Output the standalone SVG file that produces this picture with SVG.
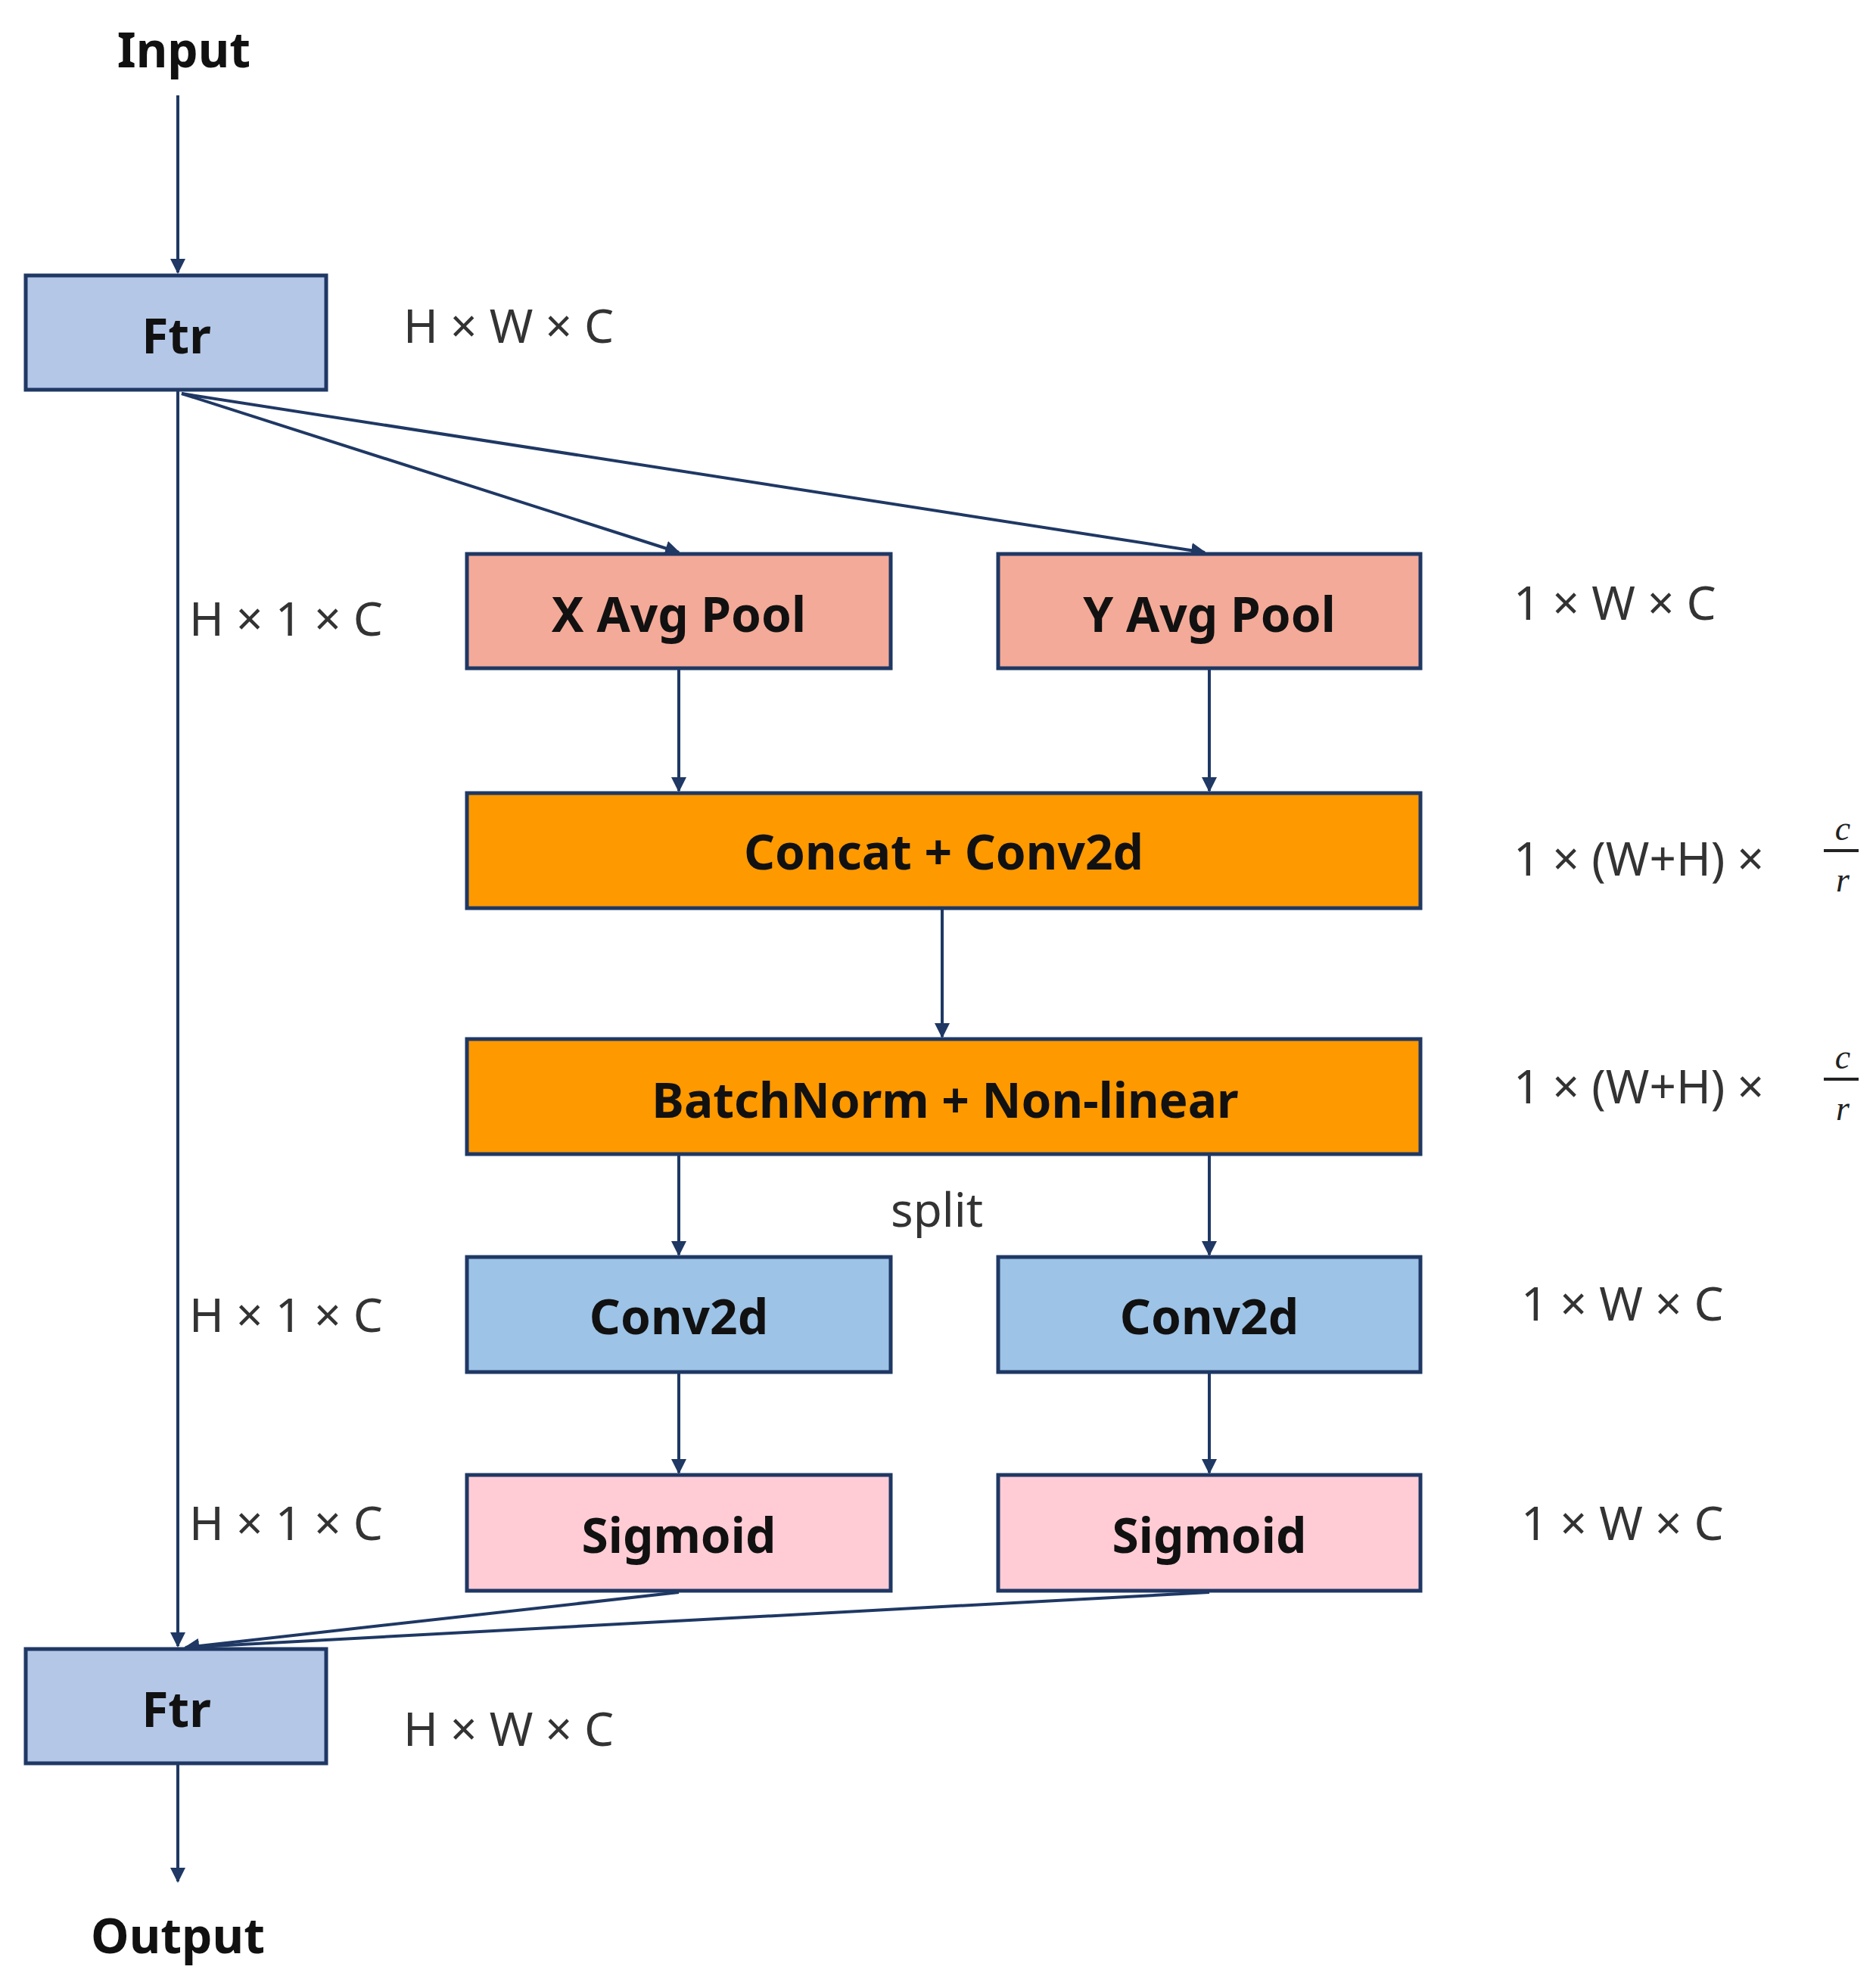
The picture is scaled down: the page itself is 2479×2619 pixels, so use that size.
<svg xmlns="http://www.w3.org/2000/svg" width="2479" height="2619" viewBox="0 0 2479 2619">
<defs>
<marker id="ah" viewBox="0 0 10 10" refX="9" refY="5" markerWidth="5" markerHeight="5" orient="auto" markerUnits="strokeWidth"><path d="M0,0 L10,5 L0,10 z" fill="#1f3864"/></marker>
<style>
.b{stroke:#1f3864;stroke-width:5}
.t{font-family:"Noto Sans","Liberation Sans",sans-serif;font-weight:bold;font-size:64px;fill:#111;text-anchor:middle;dominant-baseline:central}
.d{font-family:"Noto Sans","Liberation Sans",sans-serif;font-size:62px;fill:#333;dominant-baseline:central}
.c{stroke:#1f3864;stroke-width:4;fill:none;marker-end:url(#ah)}
.f{font-family:"Liberation Serif",serif;font-style:italic;font-size:46px;fill:#222;text-anchor:middle}
</style>
</defs>
<rect width="2479" height="2619" fill="#fff"/>
<g id="connectors">
<line class="c" x1="235" y1="126" x2="235" y2="360"/>
<line class="c" x1="235" y1="517" x2="235" y2="2175"/>
<line class="c" x1="240" y1="520" x2="897" y2="730"/>
<line class="c" x1="240" y1="520" x2="1592" y2="730"/>
<line class="c" x1="897" y1="885" x2="897" y2="1045"/>
<line class="c" x1="1598" y1="885" x2="1598" y2="1045"/>
<line class="c" x1="1245" y1="1202" x2="1245" y2="1370"/>
<line class="c" x1="897" y1="1527" x2="897" y2="1658"/>
<line class="c" x1="1598" y1="1527" x2="1598" y2="1658"/>
<line class="c" x1="897" y1="1815" x2="897" y2="1946"/>
<line class="c" x1="1598" y1="1815" x2="1598" y2="1946"/>
<line class="c" x1="897" y1="2104" x2="245" y2="2177"/>
<line class="c" x1="1598" y1="2104" x2="245" y2="2177"/>
<line class="c" x1="235" y1="2332" x2="235" y2="2486"/>
</g>
<g id="input"><text class="t" x="243" y="64">Input</text></g>
<g id="ftr1"><rect class="b" x="34" y="364" width="397" height="151" fill="#b4c7e7"/><text class="t" x="233" y="442">Ftr</text></g>
<g id="xpool"><rect class="b" x="617" y="732" width="560" height="151" fill="#f4aa98"/><text class="t" x="897" y="810">X Avg Pool</text></g>
<g id="ypool"><rect class="b" x="1319" y="732" width="558" height="151" fill="#f4aa98"/><text class="t" x="1598" y="810">Y Avg Pool</text></g>
<g id="concat"><rect class="b" x="617" y="1048" width="1260" height="152" fill="#ff9900"/><text class="t" x="1247" y="1124">Concat + Conv2d</text></g>
<g id="bn"><rect class="b" x="617" y="1373" width="1260" height="152" fill="#ff9900"/><text class="t" x="1249" y="1452">BatchNorm + Non-linear</text></g>
<g id="conv1"><rect class="b" x="617" y="1661" width="560" height="152" fill="#9dc3e6"/><text class="t" x="897" y="1738">Conv2d</text></g>
<g id="conv2"><rect class="b" x="1319" y="1661" width="558" height="152" fill="#9dc3e6"/><text class="t" x="1598" y="1738">Conv2d</text></g>
<g id="sig1"><rect class="b" x="617" y="1949" width="560" height="153" fill="#ffccd5"/><text class="t" x="897" y="2027">Sigmoid</text></g>
<g id="sig2"><rect class="b" x="1319" y="1949" width="558" height="153" fill="#ffccd5"/><text class="t" x="1598" y="2027">Sigmoid</text></g>
<g id="ftr2"><rect class="b" x="34" y="2179" width="397" height="151" fill="#b4c7e7"/><text class="t" x="233" y="2257">Ftr</text></g>
<g id="output"><text class="t" x="235" y="2556">Output</text></g>
<g id="labels">
<text class="d" x="533" y="429">H × W × C</text>
<text class="d" x="250" y="816">H × 1 × C</text>
<text class="d" x="2000" y="795">1 × W × C</text>
<text class="d" x="2000" y="1133">1 × (W+H) ×</text>
<line x1="2410" y1="1124" x2="2456" y2="1124" stroke="#222" stroke-width="4"/>
<text class="f" x="2435" y="1110">c</text><text class="f" x="2435" y="1178">r</text>
<text class="d" x="2000" y="1434">1 × (W+H) ×</text>
<line x1="2410" y1="1426" x2="2456" y2="1426" stroke="#222" stroke-width="4"/>
<text class="f" x="2435" y="1412">c</text><text class="f" x="2435" y="1480">r</text>
<text class="d" x="1177" y="1597">split</text>
<text class="d" x="250" y="1736">H × 1 × C</text>
<text class="d" x="2010" y="1721">1 × W × C</text>
<text class="d" x="250" y="2011">H × 1 × C</text>
<text class="d" x="2010" y="2011">1 × W × C</text>
<text class="d" x="533" y="2283">H × W × C</text>
</g>
</svg>
